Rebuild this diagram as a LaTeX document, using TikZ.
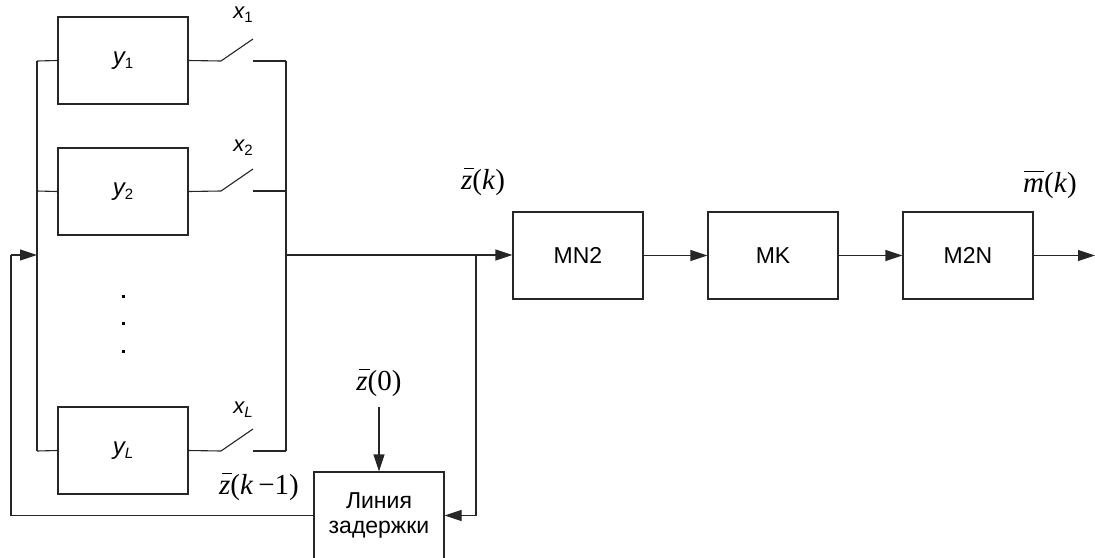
\documentclass[tikz,border=0pt]{standalone}
\usepackage{fontspec}
\setmainfont{Liberation Sans}
\newfontfamily\tms{Liberation Serif}
\usetikzlibrary{arrows.meta}
\newcommand\ovl[2]{\setbox0\hbox{#1}\rlap{\hspace*{#2}\rule[0.7em]{\dimexpr\wd0-1pt\relax}{1.1pt}}\box0}
\newcommand\lbl[2]{{\fontsize{24}{28}\selectfont\itshape #1}{\fontsize{15}{18}\selectfont\raisebox{-4pt}{#2}}}
\newcommand\xlb[2]{{\fontsize{22}{26}\selectfont\itshape #1}{\fontsize{15}{18}\selectfont\raisebox{-4pt}{#2}}}
\newcommand\mlb[1]{{\fontsize{29}{32}\selectfont\tms #1}}
\begin{document}
\begin{tikzpicture}[x=1pt,y=-1pt,
  ln/.style={line width=1.1pt,draw=black!85},
  blk/.style={ln,minimum width=130pt,minimum height=87pt,inner sep=0pt,
    font=\fontsize{23}{27}\selectfont,align=center},
  arr/.style={ln,-{Triangle[length=17pt,width=11pt]}},
  txt/.style={inner sep=0pt}]
\clip (0,0) rectangle (1095,557);
\useasboundingbox (0,0) rectangle (1095,557);
% blocks
\node[blk] (y1) at (123,60.5) {\lbl{y}{1}};
\node[blk] (y2) at (123,191.5) {\lbl{y}{2}};
\node[blk] (yL) at (123,450.5) {\lbl{y}{\itshape L}};
\node[blk] (mn2) at (578,255.5) {MN2};
\node[blk] (mk) at (773,255.5) {MK};
\node[blk] (m2n) at (968,255.5) {M2N};
\node[blk] (del) at (379,515.5) {Линия\\[-2pt]задержки};
% bus coordinates
\coordinate (l1) at (37,61);
\coordinate (l2) at (37,191);
\coordinate (lL) at (37,451);
\coordinate (lm) at (37,255);
\coordinate (fb) at (11,255);
\coordinate (r1) at (286,61);
\coordinate (r2) at (286,191);
\coordinate (rL) at (286,451);
\coordinate (rm) at (286,255);
\coordinate (br) at (476,255);
\coordinate (brd) at (476,515.5);
\coordinate (out) at (1095,255.5);
\coordinate (z0) at (379,407);
% left bus
\draw[ln] (l1) -- (lL);
\draw[ln] (l1) -- (y1.west);
\draw[ln] (l2) -- (y2.west);
\draw[ln] (lL) -- (yL.west);
% switches
\foreach \r/\yy in {1/61,2/191,L/451}{
  \coordinate (sa\r) at (221,\yy);
  \coordinate (sb\r) at (253,\yy-22);
  \coordinate (sc\r) at (253,\yy);
  \draw[ln] (y\r.east) -- (sa\r) -- (sb\r);
  \draw[ln] (sc\r) -- (r\r);
}
% right bus
\draw[ln] (r1) -- (rL);
\draw[arr] (rm) -- (mn2.west |- rm);
\draw[arr] (mn2) -- (mk);
\draw[arr] (mk) -- (m2n);
\draw[arr] (m2n) -- (out);
% feedback
\draw[ln] (br) -- (brd);
\draw[arr] (brd) -- (del.east);
\draw[ln] (del.west) -| (fb);
\draw[arr] (fb) -- (lm);
\draw[arr] (z0) -- (del.north);
% dots
\foreach \yy in {296,323,351} \fill[black] (121.5,\yy-1.5) rectangle (124.5,\yy+1.5);
% labels
\node[txt] (lx1) at (243,15) {\xlb{x}{1}};
\node[txt] (lx2) at (243,148) {\xlb{x}{2}};
\node[txt] (lxL) at (243,410) {\xlb{x}{\itshape L}};
\node[txt] (lzk) at (483,182) {\mlb{\ovl{\itshape z}{3pt}(\textit{k})}};
\node[txt] (lmk) at (1050,185) {\mlb{\ovl{\itshape m}{1pt}(\textit{k})}};
\node[txt] (lz0) at (379,383) {\mlb{\ovl{\itshape z}{3pt}(0)}};
\node[txt] (lzk1) at (259,487) {\mlb{\ovl{\itshape z}{3pt}(\textit{k}\,−1)}};
\end{tikzpicture}
\end{document}
